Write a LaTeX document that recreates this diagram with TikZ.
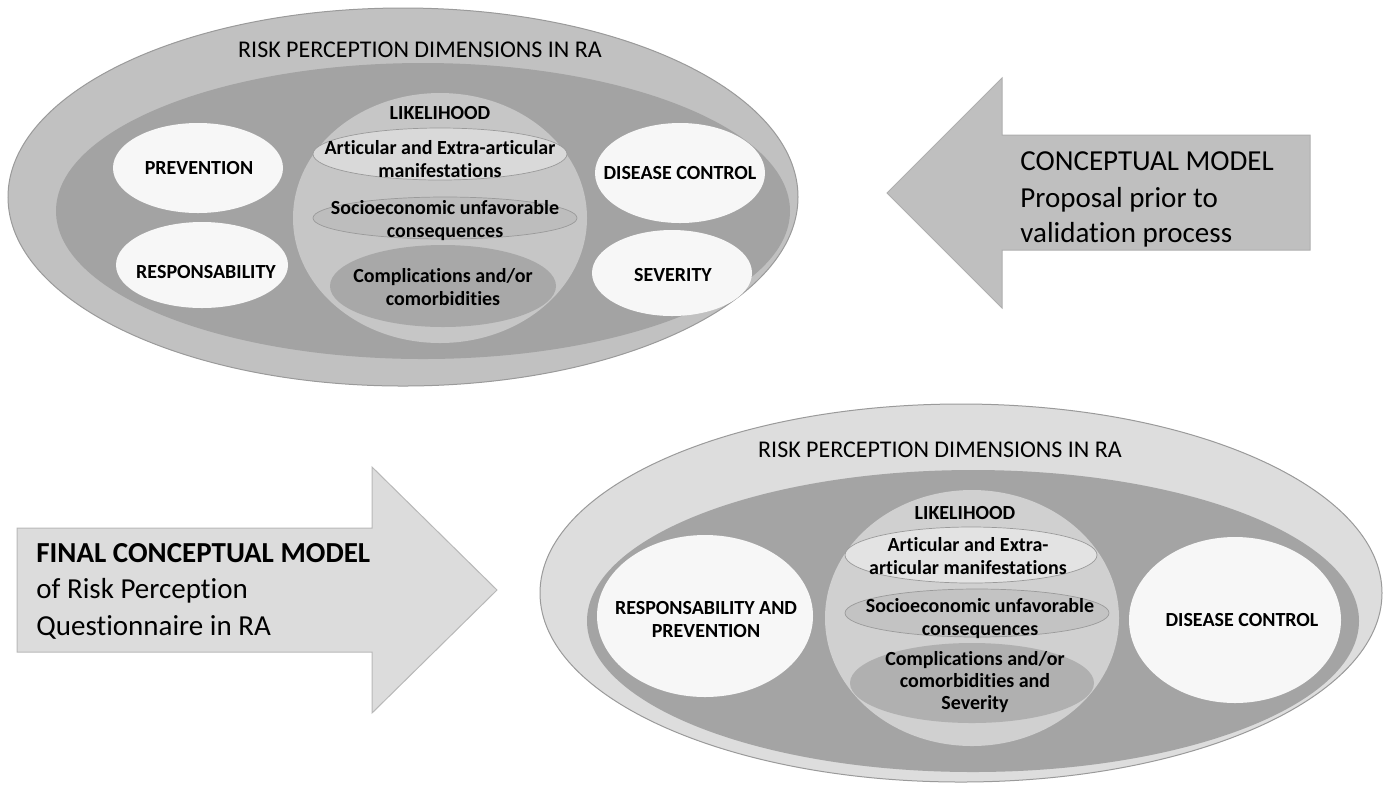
\documentclass[tikz,border=0pt]{standalone}
\usepackage{fontspec}
\setmainfont[Ligatures=NoCommon]{Carlito}
\usetikzlibrary{shapes.geometric}
\definecolor{outerTop}{HTML}{C1C1C1}
\definecolor{darkTop}{HTML}{A3A3A3}
\definecolor{circTop}{HTML}{C6C6C6}
\definecolor{subaTop}{HTML}{D9D9D9}
\definecolor{subbTop}{HTML}{BDBDBD}
\definecolor{subcTop}{HTML}{A8A8A8}
\definecolor{outerBot}{HTML}{DDDDDD}
\definecolor{darkBot}{HTML}{A4A4A4}
\definecolor{circBot}{HTML}{D0D0D0}
\definecolor{subaBot}{HTML}{E3E3E3}
\definecolor{subbBot}{HTML}{C3C3C3}
\definecolor{subcBot}{HTML}{B0B0B0}
\definecolor{whiteEll}{HTML}{F7F7F7}
\definecolor{edgeGray}{HTML}{9A9A9A}
\definecolor{arrowTop}{HTML}{BFBFBF}
\definecolor{arrowBot}{HTML}{DCDCDC}
\begin{document}
\begin{tikzpicture}[x=0.5pt,y=-0.5pt,
  ell/.style={ellipse, inner sep=0pt},
  inlbl/.style={font=\bfseries\fontsize{10}{11.5}\selectfont, text=black, align=center, inner sep=0pt},
  ttl/.style={font=\fontsize{12}{14}\selectfont, text=black},
  arrtxt/.style={font=\fontsize{14.5}{18}\selectfont, text=black, anchor=base west, inner sep=0pt},
  thinedge/.style={draw=edgeGray, line width=0.35pt}]
\useasboundingbox (0,0) rectangle (1386,784);

% ---------- top diagram ----------
\node[ell, fill=outerTop, draw=edgeGray, line width=0.5pt, minimum width=395pt, minimum height=189pt] (touter) at (403,197) {};
\node[ell, fill=darkTop, minimum width=367pt, minimum height=148pt] (tdark) at (423,211) {};
\node[ell, fill=circTop, minimum width=147pt, minimum height=125pt] (tcirc) at (440,218) {};
\node[ell, thinedge, fill=subaTop, minimum width=127pt, minimum height=26pt] (tsuba) at (440,154) {};
\node[ell, thinedge, fill=subbTop, minimum width=132pt, minimum height=21pt] (tsubb) at (445,218) {};
\node[ell, fill=subcTop, minimum width=113pt, minimum height=41pt] (tsubc) at (443,286) {};
\node[ell, fill=whiteEll, minimum width=85pt, minimum height=45pt] (tprev) at (198,168) {};
\node[ell, fill=whiteEll, minimum width=86pt, minimum height=43pt] (tresp) at (202,265) {};
\node[ell, fill=whiteEll, minimum width=85pt, minimum height=50pt] (tdis) at (680,173) {};
\node[ell, fill=whiteEll, minimum width=80pt, minimum height=43pt] (tsev) at (672,273) {};
\node[inlbl] (tsubaT) at (440,159) {Articular and Extra-articular\\manifestations};
\node[inlbl] (tsubbT) at (445,221) {Socioeconomic unfavorable\\consequences};
\node[inlbl] (tsubcT) at (443,287) {Complications and/or\\comorbidities};
\node[inlbl] (tprevT) at (199,168) {PREVENTION};
\node[inlbl] (trespT) at (206,272) {RESPONSABILITY};
\node[inlbl] (tdisT) at (680,173) {DISEASE CONTROL};
\node[inlbl] (tsevT) at (673,275) {SEVERITY};
\node[ttl] (ttitle) at (420,50) {RISK PERCEPTION DIMENSIONS IN RA};
\node[inlbl] (tlike) at (440,113) {LIKELIHOOD};

% ---------- top arrow ----------
\draw[fill=arrowTop, draw=edgeGray!80, line width=0.5pt]
  (887,193) -- (1002,78) -- (1002,135) -- (1310,135) -- (1310,250) -- (1002,250) -- (1002,308) -- cycle;
\node[arrtxt] (ta1) at (1020,170) {CONCEPTUAL MODEL};
\node[arrtxt] (ta2) at (1020,207) {Proposal prior to};
\node[arrtxt] (ta3) at (1020,242) {validation process};

% ---------- bottom arrow ----------
\draw[fill=arrowBot, draw=edgeGray!70, line width=0.5pt]
  (17,528) -- (372,528) -- (372,467) -- (497,590) -- (372,713) -- (372,652) -- (17,652) -- cycle;
\node[arrtxt, font=\bfseries\fontsize{14.5}{18}\selectfont] (ba1) at (36,562) {FINAL CONCEPTUAL MODEL};
\node[arrtxt] (ba2) at (36,598) {of Risk Perception};
\node[arrtxt] (ba3) at (36,635) {Questionnaire in RA};

% ---------- bottom diagram ----------
\node[ell, fill=outerBot, draw=edgeGray, line width=0.5pt, minimum width=421pt, minimum height=189pt] (bouter) at (961,593) {};
\node[ell, fill=darkBot, minimum width=386pt, minimum height=151pt] (bdark) at (973,621) {};
\node[ell, fill=circBot, minimum width=147pt, minimum height=128pt] (bcirc) at (972,618) {};
\node[ell, thinedge, fill=subaBot, minimum width=126pt, minimum height=28pt] (bsuba) at (971,555) {};
\node[ell, thinedge, fill=subbBot, minimum width=132pt, minimum height=24pt] (bsubb) at (977,613) {};
\node[ell, fill=subcBot, minimum width=122pt, minimum height=40pt] (bsubc) at (972,683) {};
\node[ell, fill=whiteEll, minimum width=108pt, minimum height=81pt] (bresp) at (705,616) {};
\node[ell, fill=whiteEll, minimum width=106pt, minimum height=83pt] (bdis) at (1235,620) {};
\node[inlbl] (bsubaT) at (968,556) {Articular and Extra-\\articular manifestations};
\node[inlbl] (bsubbT) at (980,619) {Socioeconomic unfavorable\\consequences};
\node[inlbl, font=\bfseries\fontsize{10}{11}\selectfont] (bsubcT) at (975,682) {Complications and/or\\comorbidities and\\Severity};
\node[inlbl] (brespT) at (706,619) {RESPONSABILITY AND\\PREVENTION};
\node[inlbl] (bdisT) at (1242,620) {DISEASE CONTROL};
\node[ttl] (btitle) at (940,450) {RISK PERCEPTION DIMENSIONS IN RA};
\node[inlbl] (blike) at (965,513) {LIKELIHOOD};
\end{tikzpicture}
\end{document}
